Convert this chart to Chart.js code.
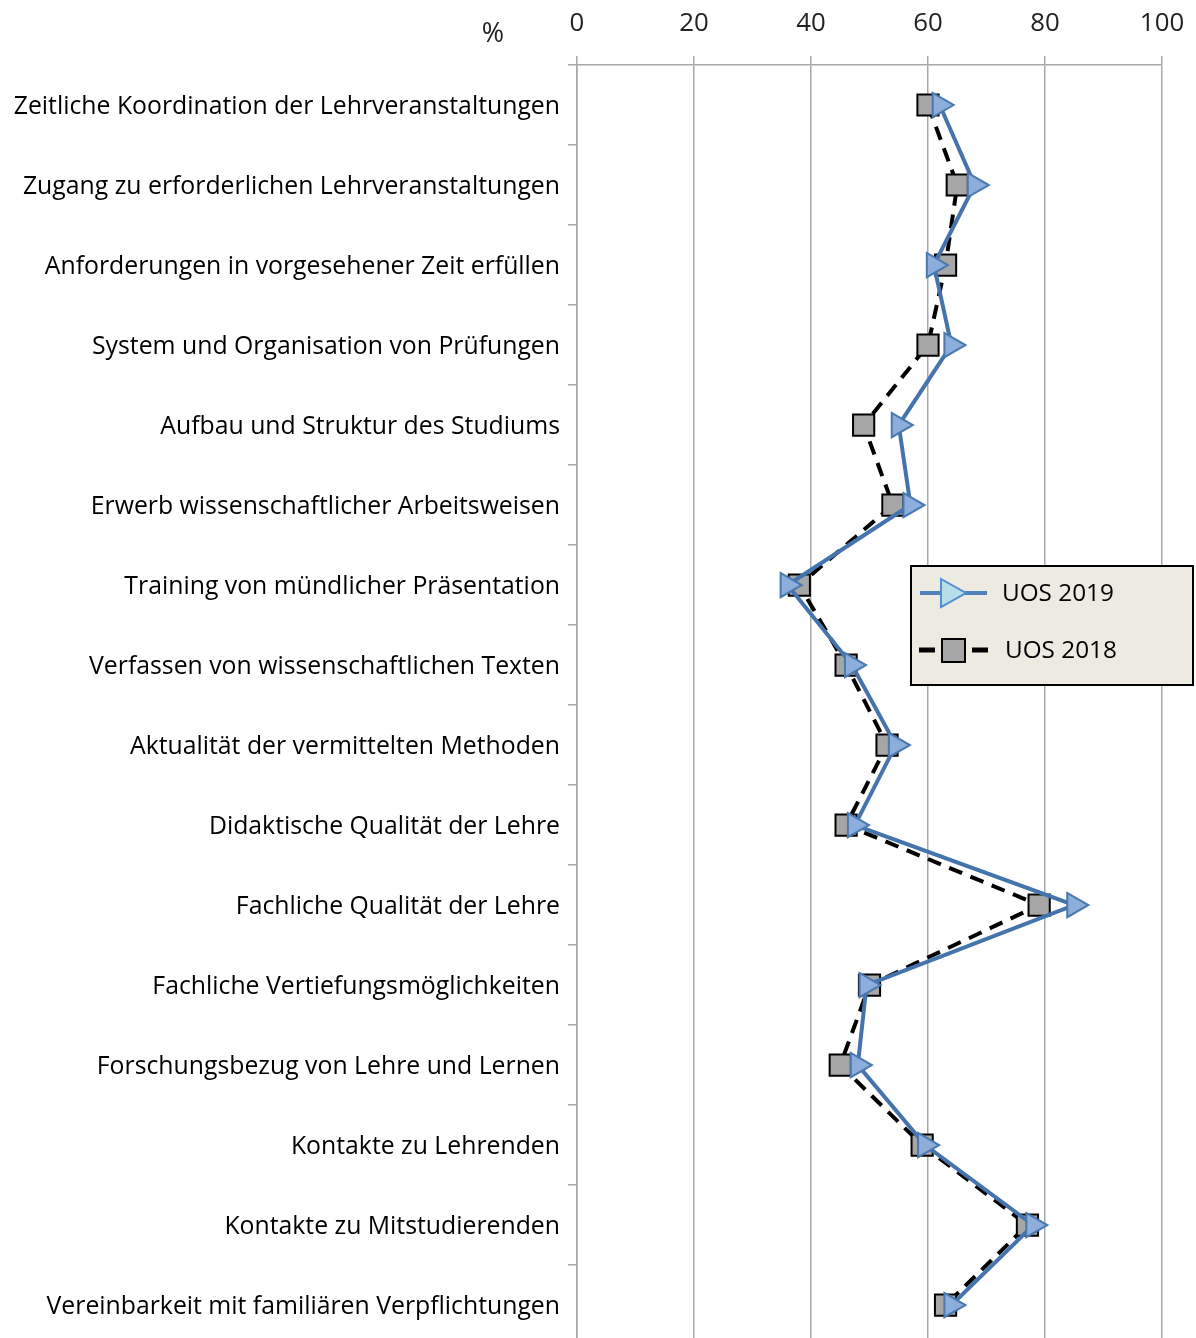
<!DOCTYPE html>
<html lang="de">
<head>
<meta charset="UTF-8">
<title>UOS 2019 / UOS 2018</title>
<script src="https://cdn.jsdelivr.net/npm/chart.js"></script>
<style>
    html, body {
        margin: 0;
        padding: 0;
        background: #ffffff;
        overflow: hidden;
    }
    #wrap {
        position: relative;
        width: 1196px;
        height: 1368px;
    }
</style>
</head>
<body>
<div id="wrap">
    <canvas id="chart" width="1196" height="1368"></canvas>
</div>
<script>
    // data
    const categories = [
        'Zeitliche Koordination der Lehrveranstaltungen',
        'Zugang zu erforderlichen Lehrveranstaltungen',
        'Anforderungen in vorgesehener Zeit erfüllen',
        'System und Organisation von Prüfungen',
        'Aufbau und Struktur des Studiums',
        'Erwerb wissenschaftlicher Arbeitsweisen',
        'Training von mündlicher Präsentation',
        'Verfassen von wissenschaftlichen Texten',
        'Aktualität der vermittelten Methoden',
        'Didaktische Qualität der Lehre',
        'Fachliche Qualität der Lehre',
        'Fachliche Vertiefungsmöglichkeiten',
        'Forschungsbezug von Lehre und Lernen',
        'Kontakte zu Lehrenden',
        'Kontakte zu Mitstudierenden',
        'Vereinbarkeit mit familiären Verpflichtungen'
    ];
    const uos2019 = [62, 68, 61, 64, 55, 57, 36, 47, 54.5, 47.5, 85, 49.5, 48, 59.5, 78, 64];
    const uos2018 = [60, 65, 63, 60, 49, 54, 38, 46, 53, 46, 79, 50, 45, 59, 77, 63];
    const xTicks = [0, 20, 40, 60, 80, 100];

    const gridGray = '#a8a8a8';
    const fontFamily = '"Open Sans", "Liberation Sans", sans-serif';

    // size the label font so the longest category label is about as wide as in the picture
    const ctx = document.getElementById('chart').getContext('2d');
    ctx.font = '100px ' + fontFamily;
    const longest = Math.max(...categories.map(c => ctx.measureText(c).width));
    const labelSize = Math.round(100 * 546 / longest * 10) / 10;
    const labelFont = { family: fontFamily, size: labelSize };
    const tickFont = { family: fontFamily, size: labelSize + 1 };

    // "%" unit label next to the top axis
    const unitPlugin = {
        id: 'unitLabel',
        afterDraw(chart) {
            const c = chart.ctx;
            c.save();
            c.font = '27px ' + fontFamily;
            c.fillStyle = '#222';
            c.textAlign = 'center';
            c.textBaseline = 'middle';
            c.fillText('%', chart.chartArea.left - 84, 34);
            c.restore();
        }
    };

    // legend box inside the plot
    const boxLegend = {
        id: 'boxLegend',
        afterDraw(chart) {
            const c = chart.ctx;
            const x = 911, y = 566, w = 282, h = 119;
            c.save();
            c.fillStyle = '#eceae1';
            c.fillRect(x, y, w, h);
            c.lineWidth = 2;
            c.strokeStyle = '#000';
            c.strokeRect(x, y, w, h);

            // UOS 2019
            let cy = y + 27;
            c.strokeStyle = '#4f81bd';
            c.lineWidth = 4;
            c.beginPath();
            c.moveTo(x + 9, cy);
            c.lineTo(x + 76, cy);
            c.stroke();
            c.beginPath();
            c.moveTo(x + 30, cy - 14);
            c.lineTo(x + 55, cy);
            c.lineTo(x + 30, cy + 14);
            c.closePath();
            c.fillStyle = '#b7dde8';
            c.fill();
            c.lineWidth = 2;
            c.strokeStyle = '#4f8fcf';
            c.stroke();

            c.font = (labelSize - 0.5) + 'px ' + fontFamily;
            c.fillStyle = '#000';
            c.textAlign = 'left';
            c.textBaseline = 'middle';
            c.fillText(chart.data.datasets[0].label, x + 91, cy + 1);

            // UOS 2018
            cy = y + 84;
            c.strokeStyle = '#000';
            c.lineWidth = 5;
            c.beginPath();
            c.moveTo(x + 8, cy);
            c.lineTo(x + 24, cy);
            c.moveTo(x + 61, cy);
            c.lineTo(x + 77, cy);
            c.stroke();
            c.fillStyle = '#a6a6a6';
            c.fillRect(x + 31, cy - 11, 23, 23);
            c.lineWidth = 2;
            c.strokeRect(x + 31, cy - 11, 23, 23);
            c.fillStyle = '#000';
            c.fillText(chart.data.datasets[1].label, x + 94, cy + 1);
            c.restore();
        }
    };

    new Chart(ctx, {
        type: 'line',
        data: {
            labels: categories,
            datasets: [
                {
                    label: 'UOS 2019',
                    data: uos2019,
                    borderColor: '#4574ad',
                    borderWidth: 4,
                    tension: 0,
                    pointStyle: 'triangle',
                    pointRotation: 90,
                    pointRadius: 14,
                    pointBackgroundColor: '#8daedb',
                    pointBorderColor: '#4a78b0',
                    pointBorderWidth: 2,
                    order: 0
                },
                {
                    label: 'UOS 2018',
                    data: uos2018,
                    borderColor: '#000000',
                    borderWidth: 4,
                    borderDash: [14, 9],
                    tension: 0,
                    pointStyle: 'rect',
                    pointRadius: 15,
                    pointBackgroundColor: '#a6a6a6',
                    pointBorderColor: '#000000',
                    pointBorderWidth: 2,
                    order: 1
                }
            ]
        },
        options: {
            indexAxis: 'y',
            responsive: false,
            animation: false,
            devicePixelRatio: 1,
            layout: { padding: { left: 0, right: 34, top: 0, bottom: 0 } },
            plugins: {
                legend: { display: false },
                tooltip: { enabled: false }
            },
            scales: {
                x: {
                    type: 'linear',
                    position: 'top',
                    min: 0,
                    max: 100,
                    afterBuildTicks: scale => {
                        scale.ticks = xTicks.map(v => ({ value: v }));
                    },
                    afterFit: scale => {
                        scale.height = 65;
                        scale.paddingLeft = 0;
                        scale.paddingRight = 0;
                    },
                    ticks: {
                        font: tickFont,
                        color: '#222',
                        padding: 17
                    },
                    grid: {
                        color: gridGray,
                        lineWidth: 1.5,
                        tickLength: 9
                    },
                    border: { color: gridGray, width: 1.5 }
                },
                y: {
                    type: 'category',
                    position: 'left',
                    offset: true,
                    afterFit: scale => { scale.width = 577; },
                    ticks: {
                        font: labelFont,
                        color: '#000',
                        padding: 8,
                        labelOffset: 2
                    },
                    grid: {
                        offset: true,
                        drawOnChartArea: false,
                        color: gridGray,
                        lineWidth: 1.5,
                        tickLength: 9
                    },
                    border: { color: gridGray, width: 1.5 }
                }
            }
        },
        plugins: [unitPlugin, boxLegend]
    });
</script>
</body>
</html>
